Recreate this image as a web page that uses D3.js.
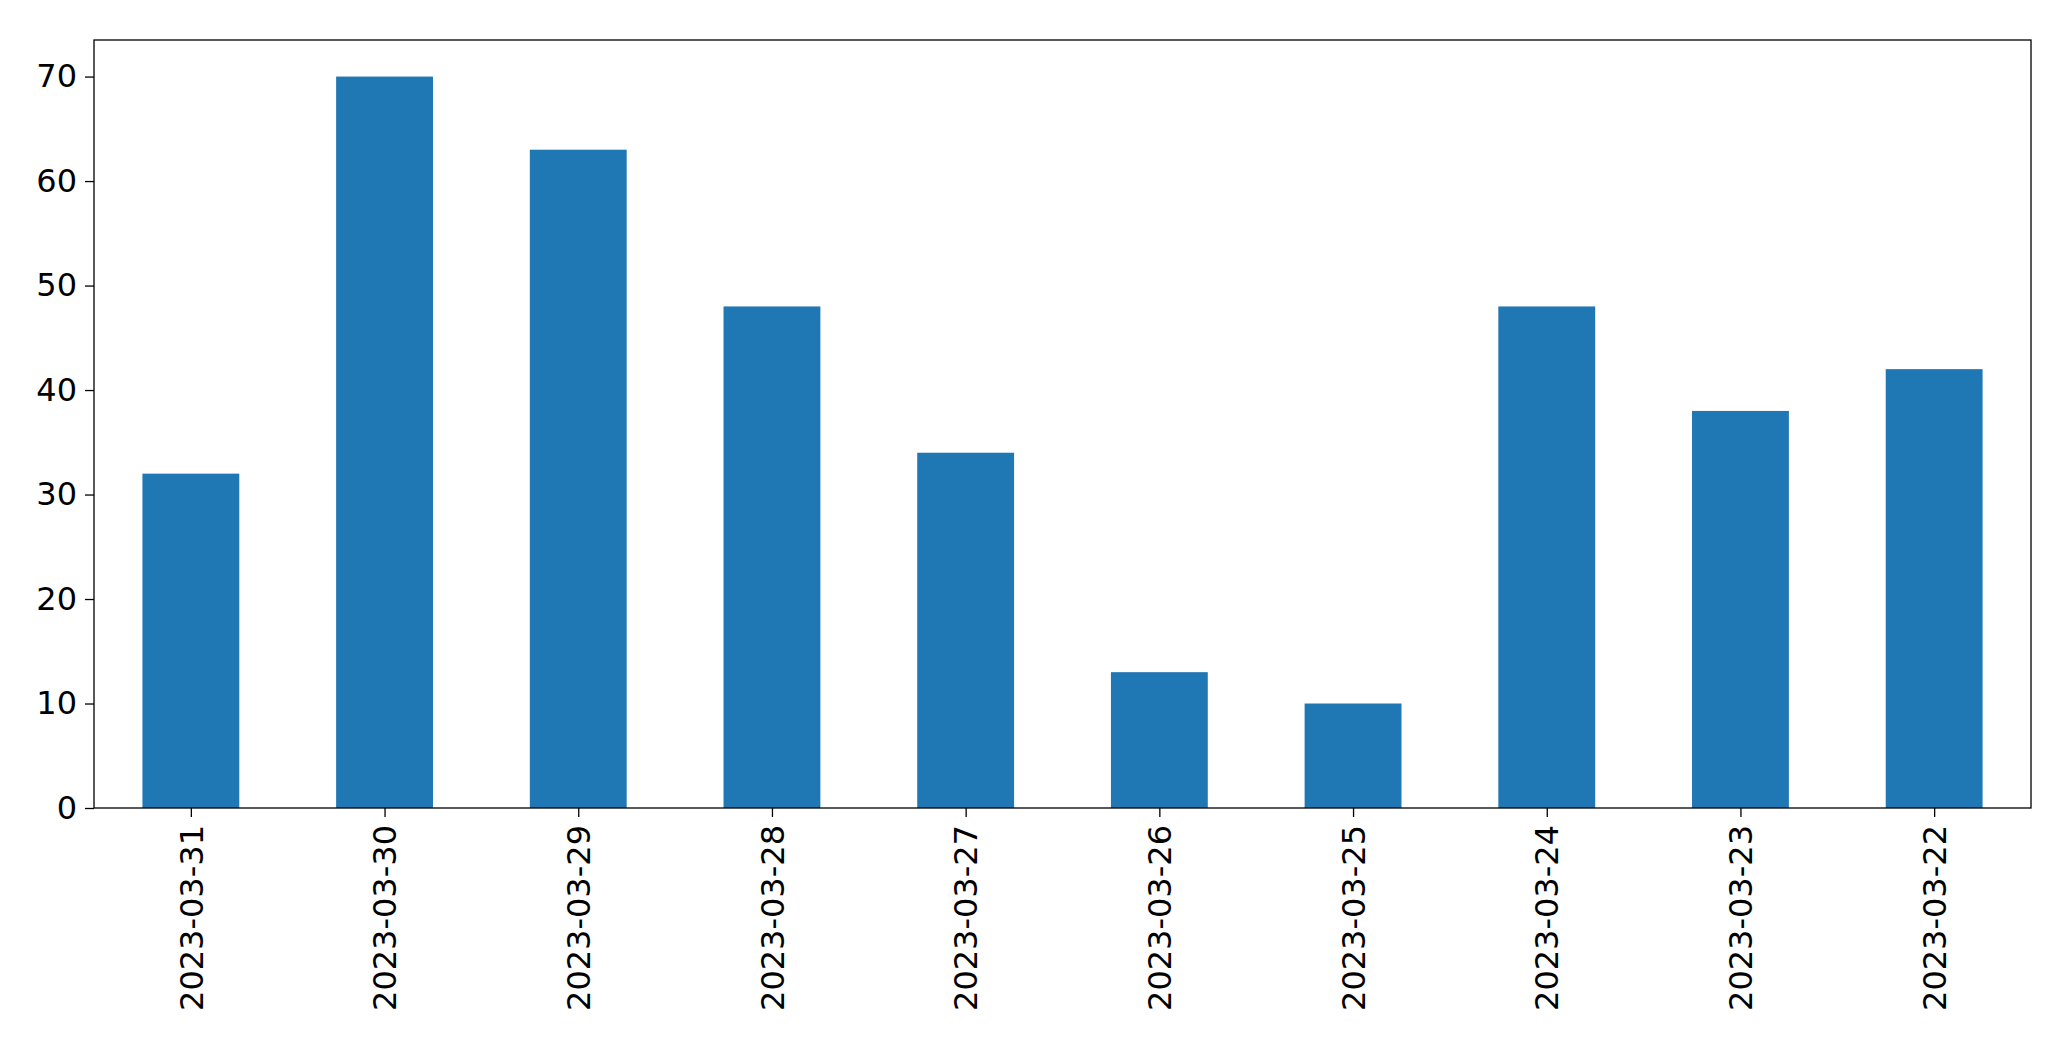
<!DOCTYPE html>
<html><head><meta charset="utf-8">
<script src="https://cdn.jsdelivr.net/npm/d3@7"></script>
<style>body{margin:0;background:#fff}svg{display:block}</style>
</head><body>
<script>
const categories = ["2023-03-31","2023-03-30","2023-03-29","2023-03-28","2023-03-27","2023-03-26","2023-03-25","2023-03-24","2023-03-23","2023-03-22"];
const values = [32,70,63,48,34,13,10,48,38,42];
const yTicks = [0,10,20,30,40,50,60,70];

const W=2071,H=1061;
const m={l:94,r:2031,t:40,b:808};
const svg=d3.select("body").append("svg").attr("width",W).attr("height",H);
const x=d3.scaleLinear().domain([-0.5,categories.length-0.5]).range([m.l,m.r]);
const y=d3.scaleLinear().domain([0,73.5]).range([m.b,m.t]);
svg.append("g").selectAll("rect").data(values).join("rect")
  .attr("x",(d,i)=>x(i-0.25)).attr("width",x(0.25)-x(-0.25))
  .attr("y",d=>y(d)).attr("height",d=>y(0)-y(d)).attr("fill","#1f77b4");
const font="'DejaVu Sans', sans-serif";
const ya=svg.append("g").attr("transform",`translate(${m.l},0)`)
  .call(d3.axisLeft(y).tickValues(yTicks).tickSize(9).tickPadding(8));
const xa=svg.append("g").attr("transform",`translate(0,${m.b})`)
  .call(d3.axisBottom(x).tickValues(d3.range(categories.length)).tickFormat(i=>categories[i]).tickSize(9).tickPadding(8));
xa.selectAll("text").attr("transform","rotate(-90)").attr("text-anchor","end")
  .attr("x",-17).attr("y",0).attr("dy","0.35em");
[ya,xa].forEach(a=>{a.select(".domain").remove();a.selectAll("text").style("font-family",font).style("font-size","32px").attr("fill","#000");a.selectAll("line").attr("stroke","#000").attr("stroke-width",1.3);});
svg.append("rect").attr("x",m.l).attr("y",m.t).attr("width",m.r-m.l).attr("height",m.b-m.t)
  .attr("fill","none").attr("stroke","#000").attr("stroke-width",1.3);
</script>
</body></html>
